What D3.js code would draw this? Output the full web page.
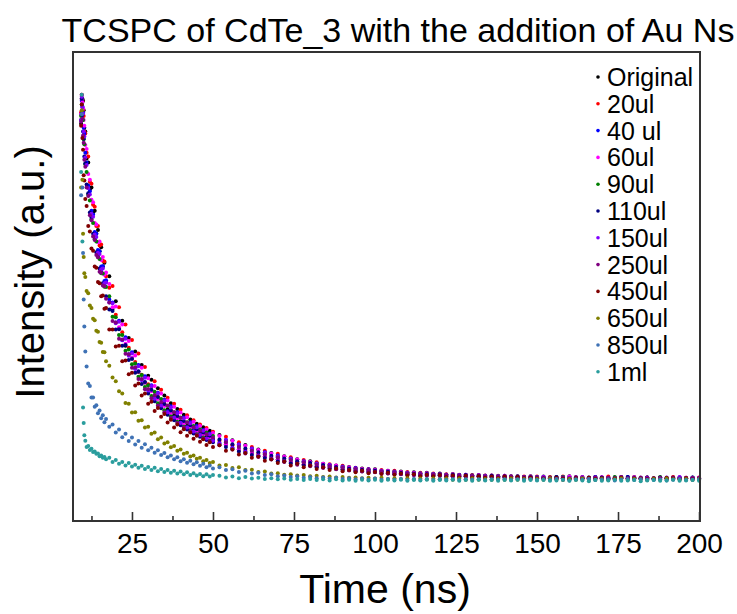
<!DOCTYPE html>
<html>
<head>
<meta charset="utf-8">
<script src="https://cdn.jsdelivr.net/npm/d3@7"></script>
<style>
body { margin: 0; background: #fff; }
svg text { font-family: "Liberation Sans", Arial, sans-serif; fill: #000; }
</style>
</head>
<body>
<svg id="chart" width="737" height="614"></svg>
<script>
// decay times (ns), shared by every curve
var times = [9.3, 9.5, 9.7, 9.9, 10.1, 10.3, 10.6, 11, 11.5, 12, 12.5, 13, 13.5, 14, 14.5, 15, 15.5, 16, 16.5, 17,
    18, 19, 20, 21, 22, 23, 24, 25, 26, 27, 28, 29, 30,
    31, 32, 33, 34, 35, 36, 37, 38, 39, 40, 41, 42, 43, 44, 45, 46, 47, 48, 49, 50,
    52, 54, 56, 58, 60, 62, 64, 66, 68, 70, 72, 74, 76, 78, 80, 82, 84, 86, 88, 90, 92, 94, 96, 98, 100,
    102, 104, 106, 108, 110, 112, 114, 116, 118, 120, 122, 124, 126, 128, 130, 132, 134, 136, 138, 140,
    142, 144, 146, 148, 150,
    152, 154, 156, 158, 160, 162, 164, 166, 168, 170, 172, 174, 176, 178, 180, 182, 184, 186, 188, 190,
    192, 194, 196, 198, 200]

var vOriginal = [925, 990, 990, 985, 960, 915, 905, 835, 825, 755, 760, 695, 700, 640, 650, 595, 605, 555, 565, 515,
    530, 445, 465, 395, 415, 350, 370, 318, 335, 282, 300, 255, 272,
    262, 222, 240, 200, 221, 185, 201, 170, 186, 154, 171, 143, 159, 132, 148, 124, 139, 114, 130, 108,
    119, 94, 105, 82, 93, 72, 81, 63, 72, 55, 64, 49, 56, 43, 51, 38, 44, 34, 40, 30, 36, 27, 32, 25, 30,
    21, 26, 19, 24, 17, 22, 15, 21, 14, 19, 13, 18, 12, 16, 11, 15, 10, 14, 9, 13, 9, 12, 8, 12, 7,
    11, 6, 10, 7, 12, 5, 9, 7, 10, 6, 9, 5, 10, 7, 8, 6, 9, 5, 8, 6, 9, 5, 8, 6, 7]
var v20ul = [955, 1000, 985, 960, 945, 905, 900, 850, 840, 775, 770, 715, 710, 660, 660, 610, 612, 570, 568, 530,
    500, 505, 430, 450, 385, 405, 345, 365, 308, 330, 275, 295, 250,
    245, 258, 218, 236, 200, 215, 182, 200, 168, 184, 152, 170, 143, 157, 132, 146, 124, 137, 115, 127,
    104, 114, 92, 100, 80, 88, 70, 78, 62, 70, 54, 61, 48, 54, 42, 48, 38, 43, 34, 39, 30, 34, 27, 31, 25,
    28, 22, 26, 20, 23, 17, 21, 16, 19, 14, 17, 13, 16, 12, 15, 11, 14, 10, 13, 10, 12, 9, 11, 8, 11,
    7, 10, 6, 11, 8, 6, 10, 7, 9, 5, 11, 7, 8, 6, 10, 7, 9, 6, 8, 5, 10, 7, 8, 6, 9]
var v40ul = [950, 985, 970, 955, 915, 900, 850, 825, 765, 750, 700, 690, 645, 640, 598, 595, 555, 556, 518, 520,
    470, 462, 410, 415, 365, 372, 328, 333, 292, 300, 262, 271, 236,
    248, 214, 228, 196, 210, 180, 193, 164, 178, 151, 164, 139, 152, 129, 142, 120, 132, 110, 123, 104,
    98, 106, 86, 94, 76, 84, 66, 74, 58, 66, 52, 58, 45, 51, 41, 45, 36, 41, 33, 37, 29, 33, 26, 30, 24,
    26, 20, 24, 18, 21, 16, 19, 15, 18, 13, 16, 12, 15, 11, 14, 10, 13, 10, 12, 9, 11, 8, 10, 8, 10,
    9, 6, 8, 10, 6, 9, 7, 5, 10, 8, 6, 9, 7, 10, 6, 8, 7, 5, 9, 7, 6, 8, 5, 9, 7]
var v60ul = [950, 990, 980, 965, 935, 920, 870, 860, 795, 780, 728, 722, 668, 664, 618, 620, 572, 580, 534, 540,
    510, 450, 452, 398, 405, 355, 362, 318, 325, 283, 293, 255, 266,
    232, 246, 212, 226, 194, 208, 176, 192, 162, 177, 149, 165, 138, 153, 128, 142, 118, 133, 111, 124,
    116, 95, 104, 82, 91, 72, 80, 63, 71, 56, 63, 49, 55, 43, 49, 38, 44, 34, 40, 31, 35, 27, 31, 24, 29,
    21, 26, 19, 23, 18, 21, 16, 20, 15, 18, 13, 17, 12, 16, 11, 15, 10, 14, 10, 13, 9, 11, 8, 11, 7,
    10, 7, 9, 6, 11, 8, 6, 9, 7, 10, 5, 8, 9, 6, 10, 7, 8, 6, 9, 7, 5, 9, 8, 6, 8]
var v90ul = [945, 975, 955, 935, 885, 872, 820, 800, 742, 726, 678, 668, 626, 620, 580, 575, 538, 537, 503, 502,
    478, 425, 424, 378, 378, 337, 340, 302, 304, 270, 274, 243, 248,
    220, 231, 201, 212, 183, 194, 167, 178, 153, 164, 140, 152, 131, 142, 121, 133, 112, 125, 104, 116,
    94, 104, 83, 91, 73, 80, 64, 71, 56, 62, 50, 55, 44, 49, 39, 44, 35, 39, 31, 35, 28, 31, 25, 28, 23,
    25, 20, 23, 18, 21, 16, 19, 15, 18, 14, 16, 13, 15, 12, 14, 11, 13, 10, 12, 9, 11, 8, 10, 8, 9,
    6, 9, 7, 10, 6, 8, 5, 9, 7, 8, 6, 10, 7, 5, 9, 6, 8, 7, 10, 6, 8, 5, 7, 9, 6]
var v110ul = [935, 990, 948, 905, 886, 840, 823, 768, 745, 695, 682, 640, 630, 592, 584, 550, 542, 512, 507, 478,
    444, 440, 392, 393, 350, 352, 313, 316, 280, 284, 251, 256, 226,
    236, 206, 217, 188, 199, 171, 182, 157, 168, 144, 155, 133, 144, 123, 134, 114, 125, 106, 117, 100,
    107, 88, 95, 76, 84, 67, 74, 59, 65, 51, 58, 45, 51, 40, 46, 35, 41, 32, 36, 28, 32, 25, 29, 22, 27,
    19, 24, 17, 21, 16, 19, 14, 18, 14, 17, 12, 16, 11, 15, 10, 14, 9, 13, 9, 12, 8, 11, 8, 10, 7,
    8, 6, 10, 7, 5, 9, 7, 8, 6, 9, 7, 5, 8, 10, 6, 7, 9, 5, 8, 6, 7, 9, 6, 8, 5]
var v150ul = [935, 995, 968, 952, 905, 892, 838, 818, 758, 742, 692, 684, 638, 632, 591, 588, 548, 550, 512, 514,
    462, 460, 408, 412, 364, 368, 324, 330, 290, 297, 261, 267, 234,
    246, 213, 227, 195, 208, 178, 190, 164, 175, 150, 162, 138, 149, 128, 139, 119, 130, 110, 121, 104,
    97, 106, 85, 94, 75, 83, 66, 73, 58, 64, 51, 57, 44, 50, 40, 44, 35, 41, 31, 36, 28, 32, 25, 29, 23,
    26, 20, 23, 18, 21, 16, 19, 15, 18, 14, 16, 12, 15, 12, 13, 11, 13, 10, 12, 9, 11, 8, 10, 8, 9,
    10, 7, 6, 9, 8, 5, 10, 7, 9, 6, 8, 7, 10, 6, 9, 5, 8, 7, 6, 9, 7, 10, 6, 8, 7]
var v250ul = [930, 1000, 938, 895, 876, 832, 814, 760, 738, 688, 675, 633, 624, 585, 579, 542, 539, 506, 504, 472,
    462, 414, 410, 368, 366, 329, 328, 293, 294, 264, 264, 237, 238,
    214, 222, 195, 204, 178, 195, 163, 178, 150, 163, 138, 151, 128, 139, 119, 130, 110, 121, 102, 112,
    92, 100, 81, 88, 71, 78, 62, 69, 55, 61, 49, 54, 42, 48, 38, 42, 33, 38, 30, 34, 27, 31, 24, 28, 22,
    25, 19, 22, 17, 20, 15, 18, 14, 17, 13, 15, 12, 14, 11, 14, 11, 12, 10, 11, 9, 11, 8, 10, 8, 9,
    6, 9, 5, 8, 7, 10, 6, 7, 9, 5, 8, 6, 10, 7, 6, 9, 7, 5, 8, 6, 9, 7, 6, 8, 6]
var v450ul = [920, 975, 888, 858, 792, 778, 730, 712, 660, 646, 602, 596, 555, 552, 515, 512, 478, 480, 446, 448,
    392, 392, 348, 350, 310, 312, 276, 280, 247, 252, 221, 226, 200,
    205, 181, 189, 166, 173, 151, 158, 138, 146, 126, 134, 117, 125, 109, 117, 101, 108, 93, 100, 88,
    92, 78, 81, 68, 72, 60, 63, 52, 56, 46, 50, 40, 44, 35, 40, 31, 35, 28, 32, 25, 28, 22, 26, 20, 23,
    18, 21, 16, 19, 14, 17, 12, 16, 12, 15, 10, 14, 9, 13, 8, 12, 8, 11, 7, 11, 7, 10, 7, 9, 6,
    7, 5, 8, 6, 4, 7, 6, 8, 5, 7, 4, 6, 8, 5, 7, 6, 4, 7, 5, 8, 6, 5, 7, 4, 6]
var v650ul = [760, 960, 780, 640, 580, 538, 528, 492, 486, 454, 448, 420, 416, 389, 386, 360, 358, 334, 333, 310,
    298, 268, 258, 232, 226, 202, 200, 177, 178, 156, 157, 138, 140,
    122, 125, 108, 112, 97, 100, 87, 90, 78, 81, 70, 73, 63, 66, 57, 60, 51, 54, 46, 49,
    40, 41, 33, 35, 28, 29, 23, 24, 19, 20, 16, 17, 14, 15, 12, 13, 10, 11, 9, 10, 8, 9, 7, 8, 6,
    8, 5, 7, 5, 7, 4, 6, 4, 6, 4, 6, 3, 6, 3, 6, 3, 5, 3, 5, 3, 6, 3, 5, 4, 5,
    3, 6, 4, 2, 5, 3, 6, 4, 3, 5, 2, 4, 6, 3, 5, 4, 2, 5, 3, 6, 4, 3, 5, 2, 4]
var v850ul = [740, 950, 760, 590, 470, 400, 335, 296, 252, 246, 216, 216, 192, 196, 175, 182, 162, 170, 152, 160,
    140, 146, 125, 133, 113, 122, 103, 112, 94, 103, 86, 95, 79,
    86, 73, 79, 67, 72, 61, 66, 56, 61, 51, 56, 47, 52, 43, 48, 39, 44, 35, 40, 32,
    35, 28, 30, 23, 26, 19, 21, 15, 17, 12, 14, 10, 12, 8, 10, 7, 9, 6, 8, 5, 7, 4, 6, 3, 6,
    3, 5, 3, 5, 2, 5, 2, 5, 2, 4, 3, 4, 2, 4, 3, 4, 2, 4, 3, 4, 2, 4, 3, 4, 2,
    4, 2, 5, 3, 1, 4, 3, 5, 2, 3, 4, 1, 3, 5, 2, 4, 3, 2, 4, 1, 3, 5, 2, 3, 4]
var v1ml = [800, 1000, 620, 190, 150, 118, 104, 88, 90, 80, 83, 75, 76, 70, 71, 64, 66, 60, 62, 56,
    60, 49, 54, 44, 49, 40, 46, 37, 42, 34, 39, 31, 36,
    28, 34, 25, 31, 23, 28, 21, 26, 19, 24, 17, 22, 15, 20, 14, 18, 12, 17, 11, 15,
    13, 9, 11, 7, 10, 6, 8, 5, 7, 4, 6, 3, 5, 2, 5, 2, 4, 1, 4, 1, 3, 0, 3, 1, 3,
    0, 3, 1, 3, 0, 2, 1, 3, 0, 2, 1, 3, 0, 2, 0, 3, 1, 2, 0, 2, 1, 3, 0, 2, 1,
    2, 0, 1, 3, 0, 2, 1, -1, 2, 0, 1, 3, 0, 1, 2, -1, 1, 2, 0, 1, 3, 0, 1, 2, 0]

var seriesNames = ["Original", "20ul", "40 ul", "60ul", "90ul", "110ul", "150ul", "250ul", "450ul", "650ul", "850ul", "1ml"]
var seriesColors = ["#000000", "#FF0000", "#0000FF", "#FF00FF", "#008000", "#000080", "#8000FF", "#800080", "#800000", "#808000", "#3F72B5", "#2A9D9D"]
var seriesValues = [vOriginal, v20ul, v40ul, v60ul, v90ul, v110ul, v150ul, v250ul, v450ul, v650ul, v850ul, v1ml]

var xMajorTicks = [25, 50, 75, 100, 125, 150, 175, 200]
var xMinorTicks = [12.5, 37.5, 62.5, 87.5, 112.5, 137.5, 162.5, 187.5]

var plot = {left: 73, right: 700, top: 52, bottom: 521}

var svg = d3.select("#chart")

var x = d3.scaleLinear()
    .domain([6.8, 200.3])
    .range([plot.left, plot.right])

var y = d3.scaleLinear()
    .domain([-104, 1111])
    .range([plot.bottom, plot.top])

// title
svg.append("text")
    .attr("x", 398)
    .attr("y", 42)
    .attr("text-anchor", "middle")
    .style("font-size", "34px")
    .text("TCSPC of CdTe_3 with the addition of Au Ns")

// scatter points, one group per curve
seriesValues.forEach(function (vals, i) {
    svg.append("g")
        .selectAll("circle")
        .data(vals)
        .enter().append("circle")
        .attr("cx", function (d, j) { return x(times[j]) })
        .attr("cy", function (d) { return y(d) })
        .attr("r", 2)
        .attr("fill", seriesColors[i])
})

// minor ticks first, then majors with labels
svg.append("g")
    .attr("transform", "translate(0," + plot.bottom + ")")
    .call(d3.axisBottom(x).tickValues(xMinorTicks).tickSize(-5).tickFormat(""))
    .call(function (g) { g.select(".domain").remove() })
    .selectAll("line").attr("stroke", "#333").attr("stroke-width", 1.6)

var xAxis = svg.append("g")
    .attr("transform", "translate(0," + plot.bottom + ")")
    .call(d3.axisBottom(x).tickValues(xMajorTicks).tickSize(-9).tickPadding(12).tickFormat(d3.format("d")))
xAxis.select(".domain").remove()
xAxis.selectAll("line").attr("stroke", "#333").attr("stroke-width", 1.6)
xAxis.selectAll("text")
    .style("font-size", "28px")
    .style("font-family", "'Liberation Sans', Arial, sans-serif")
    .attr("fill", "#000")

// frame
svg.append("rect")
    .attr("x", plot.left)
    .attr("y", plot.top)
    .attr("width", plot.right - plot.left)
    .attr("height", plot.bottom - plot.top)
    .attr("fill", "none")
    .attr("stroke", "#333")
    .attr("stroke-width", 2)

// axis titles
svg.append("text")
    .attr("x", 385)
    .attr("y", 603)
    .attr("text-anchor", "middle")
    .style("font-size", "41px")
    .text("Time (ns)")

svg.append("text")
    .attr("transform", "translate(44,272) rotate(-90)")
    .attr("text-anchor", "middle")
    .style("font-size", "40px")
    .text("Intensity (a.u.)")

// legend
var legend = svg.append("g")
seriesNames.forEach(function (name, i) {
    var cy = 77 + i * 26.8
    legend.append("circle")
        .attr("cx", 598)
        .attr("cy", cy)
        .attr("r", 1.8)
        .attr("fill", seriesColors[i])
    legend.append("text")
        .attr("x", 607)
        .attr("y", cy + 9)
        .style("font-size", "25px")
        .text(name)
})
</script>
